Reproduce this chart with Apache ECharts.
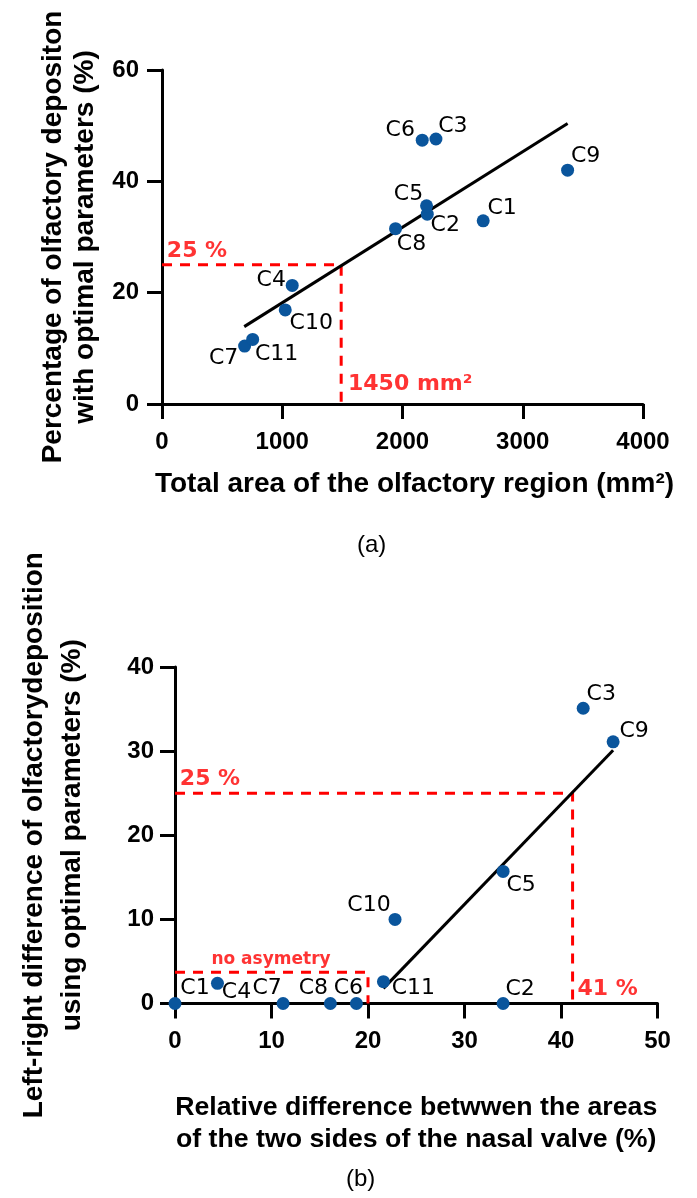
<!DOCTYPE html>
<html>
<head>
<meta charset="utf-8">
<script src="https://cdn.jsdelivr.net/npm/echarts@6/dist/echarts.min.js"></script>
<style>
  html, body { margin: 0; padding: 0; background: #fff; }
  #main { width: 697px; height: 1198px; }
</style>
</head>
<body>
<div id="main"></div>
<script>
// (a) area of olfactory region vs deposition
var namesA = ['C1', 'C2', 'C3', 'C4', 'C5', 'C6', 'C7', 'C8', 'C9', 'C10', 'C11'];
var areaA = [2671, 2206, 2278, 1083, 2200, 2164, 687, 1942, 3373, 1025, 754];
var depoA = [32.9, 34.1, 47.6, 21.3, 35.6, 47.4, 10.4, 31.5, 42.0, 16.9, 11.6];
var fitAX = [684, 3373];
var fitAY = [13.9, 50.4];
var thrAreaA = 1490;   // where the dashed line is drawn (label says 1450)
var thrDepoA = 25;

// (b) nasal valve asymmetry vs left-right difference
var namesB = ['C1', 'C2', 'C3', 'C4', 'C5', 'C6', 'C7', 'C8', 'C9', 'C10', 'C11'];
var asymB = [0, 34.0, 42.3, 4.4, 34.0, 18.8, 11.2, 16.1, 45.4, 22.8, 21.6];
var diffB = [0, 0, 35.1, 2.4, 15.7, 0, 0, 0, 31.1, 10.0, 2.6];
var fitBX = [21.6, 45.4];
var fitBY = [1.8, 30.1];
var thrAsymB = 41.2;
var thrDiffB = 25;
var noAsymX = 20;
var noAsymY = 3.7;

// label offsets (text centre relative to the point)
var offA = {
    C1: [19, -13], C2: [18, 11], C3: [17, -13], C4: [-21, -5], C5: [-18, -12],
    C6: [-22, -10], C7: [-21, 12], C8: [16, 16], C9: [18, -14], C10: [26, 13], C11: [24, 15]
};
var offB = {
    C1: [20, -15], C2: [17, -14], C3: [18, -14], C4: [19, 9], C5: [18, 14],
    C6: [-8, -15], C7: [-16, -15], C8: [-17, -15], C9: [21, -11], C10: [-26, -14], C11: [30, 7]
};

var blue = '#0a559c';
var red = '#ff0000';
var axisFont = 'Liberation Sans';

function pts(names, xs, ys, off) {
    return names.map(function(n, i) {
        return {
            name: n,
            value: [xs[i], ys[i]],
            label: { offset: off[n] }
        };
    });
}

function axisBase() {
    return {
        splitLine: { show: false },
        axisLine: { onZero: false, lineStyle: { color: '#000', width: 3 } },
        axisTick: { length: 15, lineStyle: { color: '#000', width: 3 } }
    };
}

function merge(a, b) {
    for (var k in b) a[k] = b[k];
    return a;
}

function tickLabel(margin) {
    return {
        fontFamily: axisFont, fontWeight: 'bold', fontSize: 24, color: '#000', margin: margin,
        formatter: function(v) { return String(v); }
    };
}

function nameStyle(lh, size) {
    return { fontFamily: axisFont, fontWeight: 'bold', fontSize: size || 28, color: '#000', lineHeight: lh };
}

var myChart = echarts.init(document.getElementById('main'));

var pointLabel = {
    show: true,
    position: 'inside',
    formatter: '{b}',
    fontFamily: 'DejaVu Sans',
    fontSize: 22,
    color: '#000'
};
var redLabel = {
    show: true,
    position: 'inside',
    formatter: '{b}',
    fontFamily: 'DejaVu Sans',
    fontWeight: 'bold',
    fontSize: 22,
    color: red
};

option = {
    animation: false,
    backgroundColor: '#fff',
    title: [
        { text: '(a)', left: 352, top: 528, textStyle: { fontFamily: axisFont, fontWeight: 'normal', fontSize: 24, color: '#000' } },
        { text: '(b)', left: 341, top: 1162, textStyle: { fontFamily: axisFont, fontWeight: 'normal', fontSize: 24, color: '#000' } }
    ],
    grid: [
        { left: 162, top: 70, width: 481, height: 334 },
        { left: 175, top: 667, width: 482.5, height: 336.5 }
    ],
    xAxis: [
        merge(axisBase(), {
            gridIndex: 0, type: 'value', min: 0, max: 4000, interval: 1000,
            name: 'Total area of the olfactory region (mm²)',
            nameLocation: 'middle', nameGap: 66,
            nameTextStyle: merge(nameStyle(28), { padding: [0, 0, 0, 24] }),
            axisLabel: tickLabel(26)
        }),
        merge(axisBase(), {
            gridIndex: 1, type: 'value', min: 0, max: 50, interval: 10,
            name: 'Relative difference betwwen the areas\nof the two sides of the nasal valve (%)',
            nameLocation: 'middle', nameGap: 88,
            nameTextStyle: nameStyle(32, 26.7),
            axisLabel: tickLabel(26)
        })
    ],
    yAxis: [
        merge(axisBase(), {
            gridIndex: 0, type: 'value', min: 0, max: 60, interval: 20,
            name: 'Percentage of olfactory depositon\nwith optimal parameters (%)',
            nameLocation: 'middle', nameGap: 59, nameRotate: 90,
            nameTextStyle: nameStyle(32),
            axisLabel: tickLabel(23)
        }),
        merge(axisBase(), {
            gridIndex: 1, type: 'value', min: 0, max: 40, interval: 10,
            name: 'Left-right difference of olfactorydeposition\nusing optimal parameters (%)',
            nameLocation: 'middle', nameGap: 84, nameRotate: 90,
            nameTextStyle: nameStyle(38),
            axisLabel: tickLabel(21)
        })
    ],
    series: [
        // (a) threshold dashes
        {
            type: 'line', xAxisIndex: 0, yAxisIndex: 0, symbol: 'none', silent: true, z: 3,
            lineStyle: { color: red, width: 3, type: [10, 8] },
            data: [[0, thrDepoA], [thrAreaA, thrDepoA], [thrAreaA, 0]]
        },
        // (a) fit
        {
            type: 'line', xAxisIndex: 0, yAxisIndex: 0, symbol: 'none', silent: true, z: 3,
            lineStyle: { color: '#000', width: 3 },
            data: fitAX.map(function(x, i) { return [x, fitAY[i]]; })
        },
        // (a) points
        {
            type: 'scatter', xAxisIndex: 0, yAxisIndex: 0, symbolSize: 13, clip: false, z: 4,
            itemStyle: { color: blue, opacity: 1 },
            label: pointLabel,
            data: pts(namesA, areaA, depoA, offA)
        },
        // (a) red annotations
        {
            type: 'scatter', xAxisIndex: 0, yAxisIndex: 0, symbolSize: 1, clip: false, silent: true, z: 5,
            itemStyle: { color: 'rgba(0,0,0,0)' },
            label: redLabel,
            data: [
                { name: '25 %', value: [0, thrDepoA], label: { offset: [35, -14] } },
                { name: '1450 mm²', value: [thrAreaA, 0], label: { offset: [69, -20] } }
            ]
        },
        // (b) threshold dashes
        {
            type: 'line', xAxisIndex: 1, yAxisIndex: 1, symbol: 'none', silent: true, z: 3,
            lineStyle: { color: red, width: 3, type: [10, 8] },
            data: [[0, thrDiffB], [thrAsymB, thrDiffB], [thrAsymB, 0]]
        },
        {
            type: 'line', xAxisIndex: 1, yAxisIndex: 1, symbol: 'none', silent: true, z: 3,
            lineStyle: { color: red, width: 3, type: [10, 8] },
            data: [[0, noAsymY], [noAsymX, noAsymY], [noAsymX, 0]]
        },
        // (b) fit
        {
            type: 'line', xAxisIndex: 1, yAxisIndex: 1, symbol: 'none', silent: true, z: 3,
            lineStyle: { color: '#000', width: 3 },
            data: fitBX.map(function(x, i) { return [x, fitBY[i]]; })
        },
        // (b) points
        {
            type: 'scatter', xAxisIndex: 1, yAxisIndex: 1, symbolSize: 13, clip: false, z: 4,
            itemStyle: { color: blue, opacity: 1 },
            label: pointLabel,
            data: pts(namesB, asymB, diffB, offB)
        },
        // (b) red annotations
        {
            type: 'scatter', xAxisIndex: 1, yAxisIndex: 1, symbolSize: 1, clip: false, silent: true, z: 5,
            itemStyle: { color: 'rgba(0,0,0,0)' },
            label: redLabel,
            data: [
                { name: '25 %', value: [0, thrDiffB], label: { offset: [35, -14] } },
                { name: '41 %', value: [thrAsymB, 0], label: { offset: [35, -14] } },
                { name: 'no asymetry', value: [0, noAsymY], label: { offset: [96, -13], fontSize: 17 } }
            ]
        }
    ]
};

myChart.setOption(option);
</script>
</body>
</html>
